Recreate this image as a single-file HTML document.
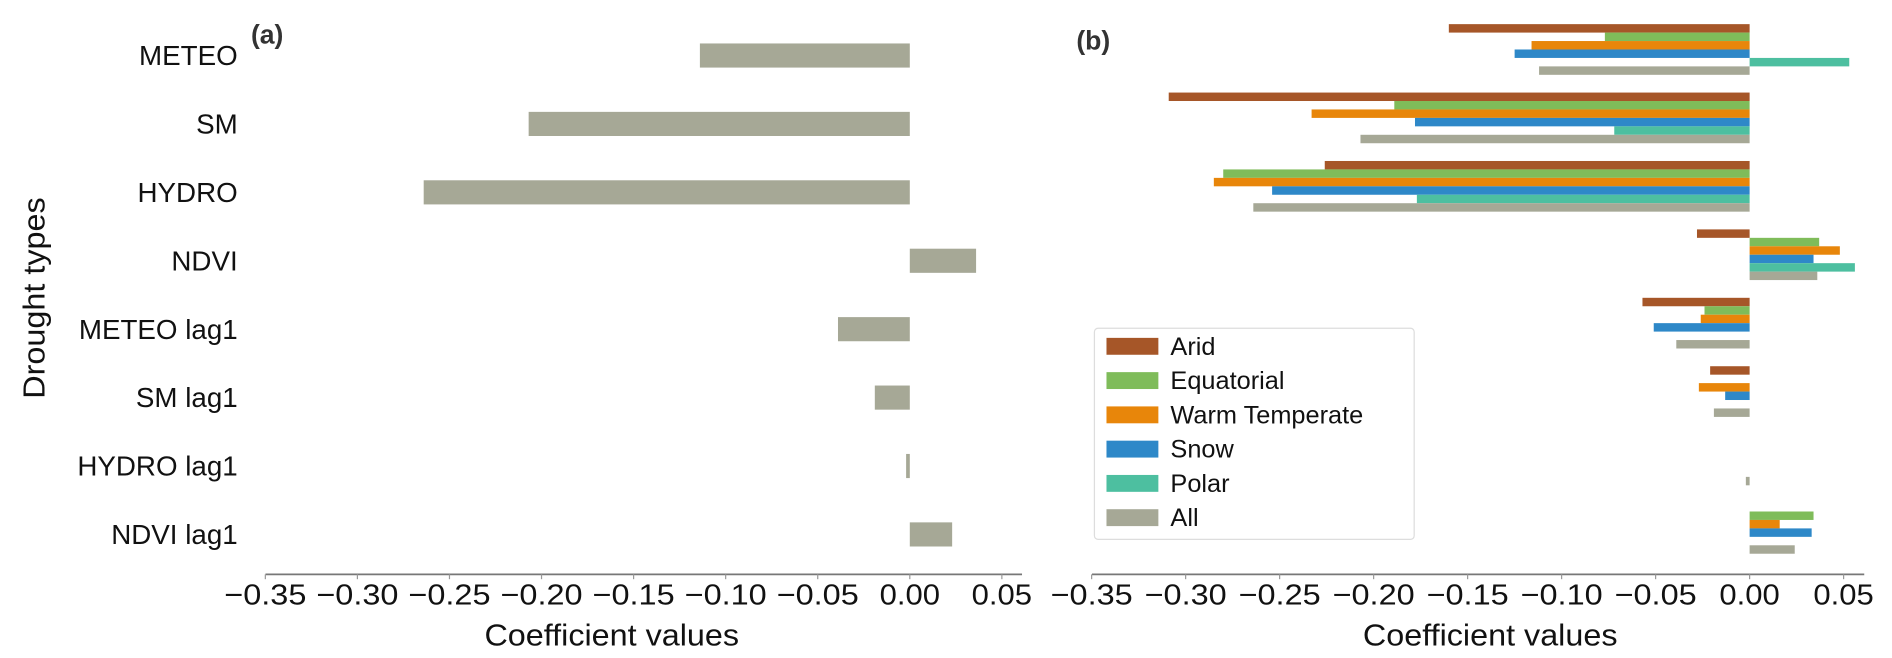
<!DOCTYPE html>
<html><head><meta charset="utf-8"><style>
html,body{margin:0;padding:0;background:#fff;overflow:hidden;}
svg{display:block;font-family:"Liberation Sans",sans-serif;}
</style></head><body>
<svg id="c" width="1892" height="658" viewBox="0 0 1568 545.3" xmlns="http://www.w3.org/2000/svg"></svg>
<script>
const categories=["METEO","SM","HYDRO","NDVI","METEO lag1","SM lag1","HYDRO lag1","NDVI lag1"];
const allValues=[-0.114,-0.207,-0.264,0.036,-0.039,-0.019,-0.002,0.023];
const seriesNames=["Arid","Equatorial","Warm Temperate","Snow","Polar","All"];
const arid=[-0.160,-0.309,-0.226,-0.028,-0.057,-0.021,0,0];
const equatorial=[-0.077,-0.189,-0.280,0.037,-0.024,0,0,0.034];
const warm=[-0.116,-0.233,-0.285,0.048,-0.026,-0.027,0,0.016];
const snow=[-0.125,-0.178,-0.254,0.034,-0.051,-0.013,0,0.033];
const polar=[0.053,-0.072,-0.177,0.056,0,0,0,0];
const allB=[-0.112,-0.207,-0.264,0.036,-0.039,-0.019,-0.002,0.024];
const ticks=[-0.35,-0.30,-0.25,-0.20,-0.15,-0.10,-0.05,0.00,0.05];
const tickLabels=["\u22120.35","\u22120.30","\u22120.25","\u22120.20","\u22120.15","\u22120.10","\u22120.05","0.00","0.05"];
const colors=["#a65628","#7fbc5a","#e8860a","#2e88c8","#4dbfa0","#a6a896"];
const series=[arid,equatorial,warm,snow,polar,allB];

const svg=document.getElementById('c');
const NS="http://www.w3.org/2000/svg";
function mk(tag,attrs,parent){const e=document.createElementNS(NS,tag);for(const k in attrs)e.setAttribute(k,attrs[k]);(parent||svg).appendChild(e);return e;}
const axisY=476;
function yRow(i){return 46+i*56.7;}
const xa=v=>754+(v/0.05)*76.3;
const xb=v=>1450+(v/0.05)*77.9;

// Panel a
for(let i=0;i<categories.length;i++){
  const v=allValues[i];
  const r=mk('rect',{x:Math.min(xa(0),xa(v)),y:yRow(i)-10,width:Math.max(1.5,Math.abs(xa(v)-xa(0))),height:20,fill:"#a6a896"});
  
  
  const t=mk('text',{x:197,y:yRow(i)+8,'text-anchor':'end','font-size':23,fill:'#111'});
  t.textContent=categories[i];
  
  
}
function axis(xf,x0,x1,cx,panel){
  const l=mk('line',{x1:x0,x2:x1,y1:axisY,y2:axisY,stroke:'#777','stroke-width':1.5});
  
  
  ticks.forEach((t,i)=>{
    mk('line',{x1:xf(t),x2:xf(t),y1:axisY,y2:axisY+4,stroke:'#999','stroke-width':1});
    const w=(i>=7)?50:68;
    const tx=mk('text',{x:xf(t),y:axisY+25,'text-anchor':'middle','font-size':24,fill:'#111',textLength:w,lengthAdjust:'spacingAndGlyphs'});
    tx.textContent=tickLabels[i];
    
    
  });
  const xl=mk('text',{x:cx,y:535,'text-anchor':'middle','font-size':25,fill:'#111',textLength:211,lengthAdjust:'spacingAndGlyphs'});
  xl.textContent="Coefficient values";
  
  
}
axis(xa,220,847,507,'a');
axis(xb,905,1545,1235,'b');
const yt=mk('text',{x:0,y:0,'text-anchor':'middle','font-size':25,fill:'#111',textLength:167,lengthAdjust:'spacingAndGlyphs',transform:'translate(37,247) rotate(-90)'});
yt.textContent="Drought types";


const pa=mk('text',{x:208,y:36,'font-size':22,'font-weight':'bold',fill:'#333'});
pa.textContent="(a)";


const pb=mk('text',{x:892,y:41,'font-size':22,'font-weight':'bold',fill:'#333'});
pb.textContent="(b)";



// Panel b
const bh=7;
for(let i=0;i<categories.length;i++){
  const top=yRow(i)-5-3*bh;
  for(let s=0;s<series.length;s++){
    const v=series[s][i];
    if(v===0)continue;
    const r=mk('rect',{x:Math.min(xb(0),xb(v)),y:top+s*bh,width:Math.max(1.5,Math.abs(xb(v)-xb(0))),height:bh,fill:colors[s]});
    
    
  }
}
// legend
const lg=mk('g',{});


mk('rect',{x:907,y:272,width:265,height:175,rx:3,fill:'#fff',stroke:'#ddd','stroke-width':1},lg);
seriesNames.forEach((n,s)=>{
  const y=287+s*28.4;
  const p=mk('rect',{x:917,y:y-7,width:43,height:14,fill:colors[s]},lg);
  
  
  const t=mk('text',{x:970,y:y+7,'font-size':21,fill:'#111'},lg);
  t.textContent=n;
  
  
});
</script>
</body></html>
